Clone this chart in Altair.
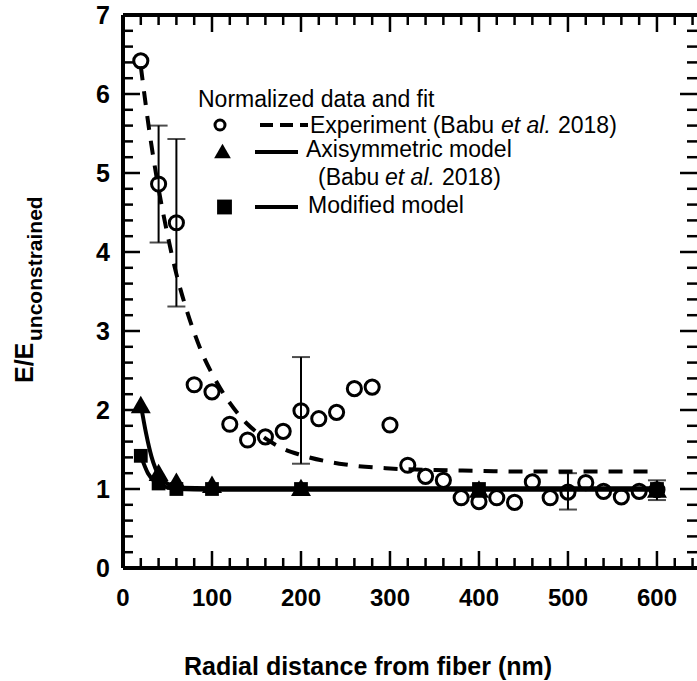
import altair as alt
import pandas as pd

# ---------------- data ----------------
exp_x = [20, 40, 60, 80, 100, 120, 140, 160, 180, 200, 220, 240, 260, 280, 300,
         320, 340, 360, 380, 400, 420, 440, 460, 480, 500, 520, 540, 560, 580, 600]
exp_y = [6.42, 4.86, 4.37, 2.32, 2.23, 1.82, 1.62, 1.66, 1.73, 1.99, 1.89, 1.97, 2.27, 2.29, 1.81,
         1.30, 1.16, 1.11, 0.89, 0.84, 0.89, 0.83, 1.09, 0.89, 0.96, 1.08, 0.97, 0.90, 0.97, 0.99]

err_x = [40, 60, 200, 500, 600]
err_lo = [4.12, 3.31, 1.32, 0.74, 0.86]
err_hi = [5.60, 5.43, 2.67, 1.20, 1.11]

fit_x = [20, 30, 40, 50, 60, 70, 80, 90, 100, 120, 140, 160, 180, 200, 250, 300, 350, 400, 450, 500, 550, 600]
fit_y = [6.35, 5.50, 4.80, 4.22, 3.72, 3.32, 2.98, 2.69, 2.46, 2.09, 1.82, 1.64, 1.51, 1.43, 1.31, 1.26,
         1.24, 1.23, 1.22, 1.22, 1.22, 1.22]

axi_x = [20, 40, 60, 100, 200, 400, 600]
axi_y = [2.07, 1.21, 1.10, 1.06, 1.02, 1.0, 1.0]
axi_line_x = [20, 26, 32, 41, 53, 64, 100, 200, 400, 600]
axi_line_y = [2.07, 1.70, 1.41, 1.16, 1.05, 1.015, 1.01, 1.01, 1.01, 1.01]

mod_x = [20, 40, 60, 100, 200, 400, 600]
mod_y = [1.42, 1.07, 1.0, 1.0, 1.0, 1.0, 1.0]
mod_line_x = [20, 28, 38, 50, 60, 100, 200, 400, 600]
mod_line_y = [1.42, 1.20, 1.07, 1.02, 1.0, 0.99, 0.99, 0.99, 0.99]

x_major = [0, 100, 200, 300, 400, 500, 600]
x_minor = [20, 40, 60, 80, 120, 140, 160, 180, 220, 240, 260, 280, 320, 340, 360, 380,
           420, 440, 460, 480, 520, 540, 560, 580, 620, 640]
y_major = [0, 1, 2, 3, 4, 5, 6, 7]
y_minor = [0.2, 0.4, 0.6, 0.8, 1.2, 1.4, 1.6, 1.8, 2.2, 2.4, 2.6, 2.8, 3.2, 3.4, 3.6, 3.8,
           4.2, 4.4, 4.6, 4.8, 5.2, 5.4, 5.6, 5.8, 6.2, 6.4, 6.6, 6.8]

x_title = "Radial distance from fiber (nm)"
leg_title = "Normalized data and fit"

# ---------------- layout ----------------
W, H = 574, 553
FONT = "Liberation Sans"
LF = 23  # legend font size
xs = alt.Scale(domain=[0, 645], nice=False, zero=False)
ys = alt.Scale(domain=[0, 7], nice=False, zero=False)

exp_df = pd.DataFrame({"x": exp_x, "y": exp_y})
err_df = pd.DataFrame({"x": err_x, "lo": err_lo, "hi": err_hi})
fit_df = pd.DataFrame({"x": fit_x, "y": fit_y})
axi_df = pd.DataFrame({"x": axi_x, "y": axi_y})
axl_df = pd.DataFrame({"x": axi_line_x, "y": axi_line_y})
mod_df = pd.DataFrame({"x": mod_x, "y": mod_y})
mdl_df = pd.DataFrame({"x": mod_line_x, "y": mod_line_y})


def X(field="x"):
    return alt.X(f"{field}:Q", scale=xs, axis=None)


def Y(field="y"):
    return alt.Y(f"{field}:Q", scale=ys, axis=None)


layers = []

# ticks (inward) drawn as rules
xmaj = pd.DataFrame({"x": x_major})
xmin = pd.DataFrame({"x": x_minor})
ymaj = pd.DataFrame({"y": y_major})
ymin = pd.DataFrame({"y": y_minor})
tick = dict(color="black", strokeWidth=2.5)
for df, L in ((xmaj, 17), (xmin, 10)):
    layers.append(alt.Chart(df).mark_rule(**tick).encode(x=X(), y=alt.value(H), y2=alt.value(H - L)))
    layers.append(alt.Chart(df).mark_rule(**tick).encode(x=X(), y=alt.value(0), y2=alt.value(L)))
for df, L in ((ymaj, 17), (ymin, 10)):
    layers.append(alt.Chart(df).mark_rule(**tick).encode(y=Y(), x=alt.value(0), x2=alt.value(L)))
    layers.append(alt.Chart(df).mark_rule(**tick).encode(y=Y(), x=alt.value(W), x2=alt.value(W - L)))

# tick labels
layers.append(alt.Chart(xmaj).mark_text(font=FONT, fontSize=24, fontWeight="bold", color="black",
                                        align="center", baseline="alphabetic")
              .encode(x=X(), y=alt.value(H + 38), text=alt.Text("x:Q", format="d")))
layers.append(alt.Chart(ymaj).mark_text(font=FONT, fontSize=25, fontWeight="bold", color="black",
                                        align="right", baseline="alphabetic", dy=8.5)
              .encode(y=Y(), x=alt.value(-13), text=alt.Text("y:Q", format="d")))

# frame
frame = dict(color="black", strokeWidth=3)
layers.append(alt.Chart(xmaj).mark_rule(**frame).encode(x=alt.value(0), y=alt.value(0), y2=alt.value(H)))
layers.append(alt.Chart(xmaj).mark_rule(**frame).encode(y=alt.value(H), x=alt.value(0), x2=alt.value(W)))
layers.append(alt.Chart(xmaj).mark_rule(**frame).encode(y=alt.value(0), x=alt.value(0), x2=alt.value(W)))

# fit (dashed)
layers.append(alt.Chart(fit_df).mark_line(color="black", strokeWidth=4, strokeDash=[14, 11],
                                          interpolate="monotone").encode(x=X(), y=Y()))
# error bars
layers.append(alt.Chart(err_df).mark_rule(color="black", strokeWidth=2).encode(x=X(), y=Y("lo"), y2="hi:Q"))
layers.append(alt.Chart(err_df).mark_tick(color="black", orient="horizontal", size=18, thickness=2)
              .encode(x=X(), y=Y("lo")))
layers.append(alt.Chart(err_df).mark_tick(color="black", orient="horizontal", size=18, thickness=2)
              .encode(x=X(), y=Y("hi")))

# model lines
layers.append(alt.Chart(axl_df).mark_line(color="black", strokeWidth=4, interpolate="monotone")
              .encode(x=X(), y=Y()))
layers.append(alt.Chart(mdl_df).mark_line(color="black", strokeWidth=4, interpolate="monotone")
              .encode(x=X(), y=Y()))

# experiment circles
layers.append(alt.Chart(exp_df).mark_point(shape="circle", filled=False, color="black", size=200,
                                           strokeWidth=3, opacity=1).encode(x=X(), y=Y()))

# model markers
layers.append(alt.Chart(axi_df).mark_point(shape="triangle-up", filled=True, color="black", size=400,
                                           opacity=1).encode(x=X(), y=Y()))
layers.append(alt.Chart(mod_df).mark_point(shape="square", filled=True, color="black", size=190,
                                           opacity=1).encode(x=X(), y=Y()))

# ---------------- legend ----------------
one = pd.DataFrame({"a": [0]})


def txt(s, px, py, size=LF, style="normal", weight="normal", align="left", angle=0):
    kw = dict(text=s, font=FONT, fontSize=size, fontStyle=style, fontWeight=weight,
              align=align, baseline="alphabetic", color="black")
    if angle:
        kw["angle"] = angle
    return alt.Chart(one).mark_text(**kw).encode(x=alt.value(px), y=alt.value(py))


layers.append(txt(leg_title, 75, 92))
layers.append(alt.Chart(one).mark_point(shape="circle", filled=False, color="black", size=100, strokeWidth=3,
                                        opacity=1).encode(x=alt.value(97), y=alt.value(110)))
layers.append(alt.Chart(one).mark_rule(color="black", strokeWidth=4, strokeDash=[13, 7])
              .encode(x=alt.value(137), x2=alt.value(185), y=alt.value(110)))
layers.append(txt("Experiment (Babu", 187, 118))
layers.append(txt("et al.", 378, 118, style="italic"))
layers.append(txt("2018)", 435, 118))

layers.append(alt.Chart(one).mark_point(shape="triangle-up", filled=True, color="black", size=280,
                                        opacity=1).encode(x=alt.value(99.5), y=alt.value(136)))
layers.append(alt.Chart(one).mark_rule(color="black", strokeWidth=4)
              .encode(x=alt.value(132), x2=alt.value(175), y=alt.value(137)))
layers.append(txt("Axisymmetric model", 183, 142))
layers.append(txt("(Babu", 195, 170))
layers.append(txt("et al.", 262, 170, style="italic"))
layers.append(txt("2018)", 319, 170))

layers.append(alt.Chart(one).mark_point(shape="square", filled=True, color="black", size=220,
                                        opacity=1).encode(x=alt.value(101.5), y=alt.value(192)))
layers.append(alt.Chart(one).mark_rule(color="black", strokeWidth=4)
              .encode(x=alt.value(132), x2=alt.value(175), y=alt.value(192)))
layers.append(txt("Modified model", 185, 198))

# axis titles
layers.append(txt(x_title, 245, 660, size=25, weight="bold", align="center"))
layers.append(txt("E/E", -90, 368, size=25, weight="bold", angle=270))
layers.append(txt("unconstrained", -81, 326, size=21, weight="bold", angle=270))

chart = alt.layer(*layers).properties(
    width=W, height=H,
    padding={"left": 123, "top": 15, "right": 0, "bottom": 113},
    autosize=alt.AutoSizeParams(type="none"),
    background="white",
).configure_view(stroke=None)

chart.save("out.html", embed_options={"renderer": "svg", "actions": False})
